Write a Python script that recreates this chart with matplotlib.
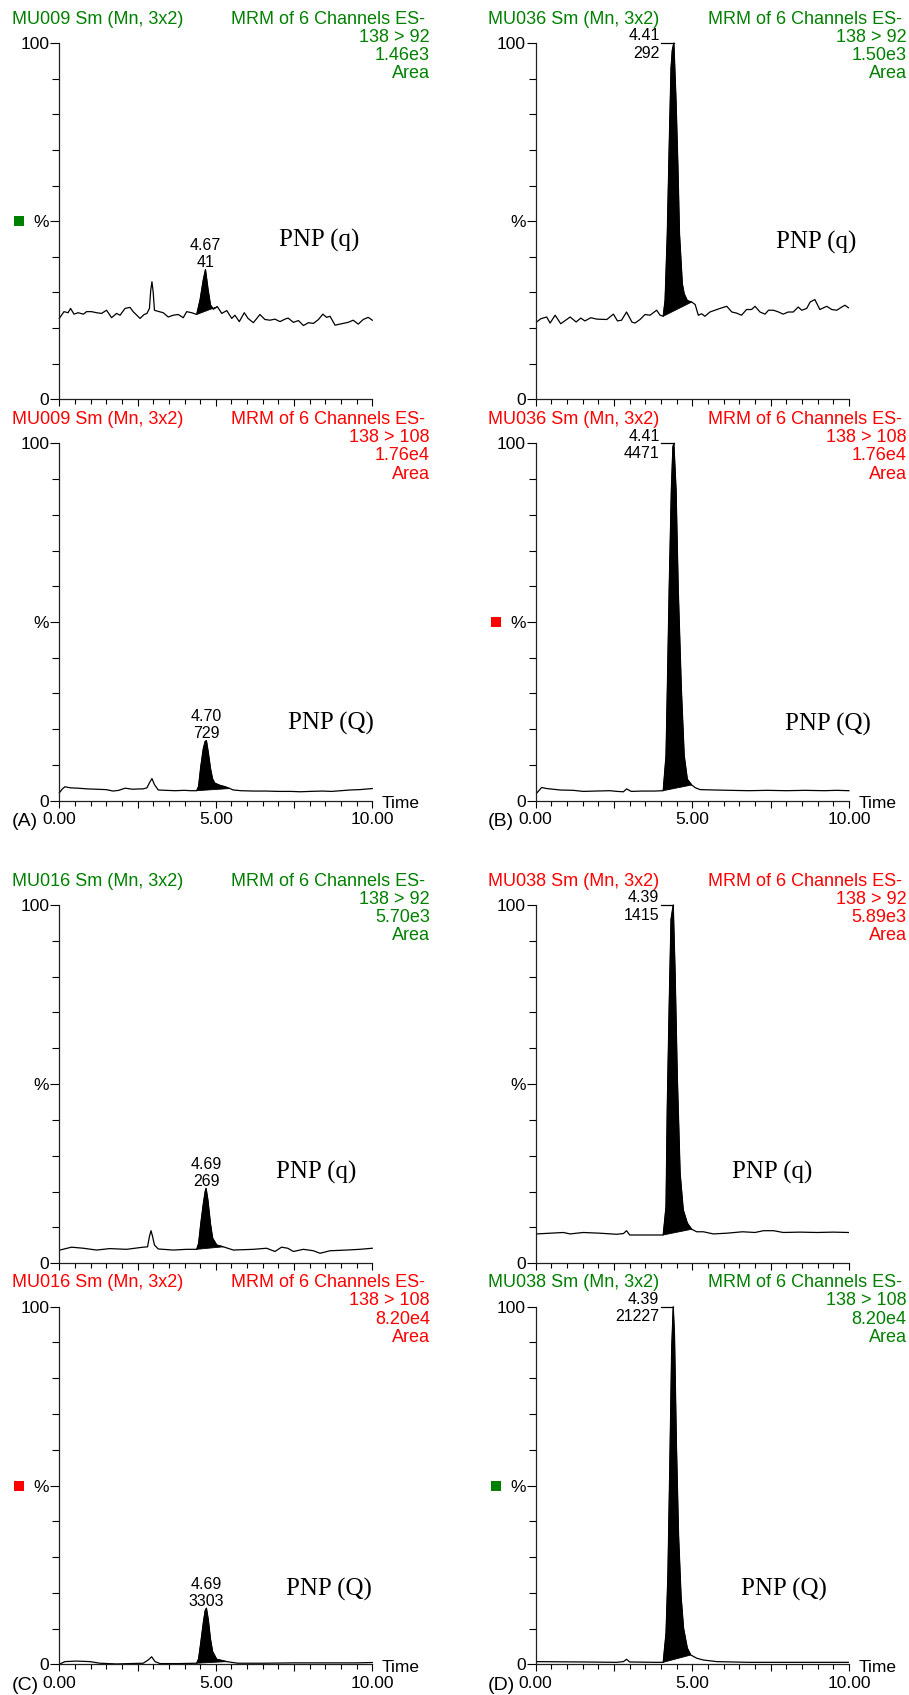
import matplotlib
matplotlib.use('agg')
import matplotlib.pyplot as plt
from matplotlib.transforms import offset_copy
import numpy as np

plt.rcParams['font.family'] = ['Liberation Sans', 'DejaVu Sans']

GREEN = '#008000'
RED = '#ff0000'

### chromatogram traces (time in min, relative intensity in %)
a_q_time = [0.00, 0.15, 0.28, 0.36, 0.47, 0.60, 0.77, 0.87, 1.03, 1.19, 1.35, 1.51, 1.67, 1.83, 1.94,
            2.10, 2.26, 2.36, 2.58, 2.71, 2.80, 2.88, 2.92, 2.96, 3.00, 3.04, 3.11, 3.32, 3.48, 3.64,
            3.80, 3.96, 4.07, 4.23, 4.39, 4.50, 4.60, 4.67, 4.75, 4.83, 4.92, 5.05, 5.19, 5.35, 5.51,
            5.61, 5.75, 5.91, 6.03, 6.20, 6.41, 6.57, 6.73, 6.89, 7.05, 7.21, 7.31, 7.48, 7.64, 7.80,
            7.96, 8.12, 8.28, 8.42, 8.54, 8.65, 8.81, 8.91, 9.07, 9.23, 9.39, 9.55, 9.71, 9.87, 10.00]
a_q_pct = [22.7, 24.6, 24.3, 25.5, 23.9, 24.3, 23.9, 24.6, 24.6, 24.3, 24.1, 25.0, 22.9, 24.1, 23.6,
           25.5, 25.8, 24.6, 22.7, 23.8, 24.1, 25.5, 30.5, 33.0, 30.0, 25.0, 24.8, 24.3, 23.1, 23.6,
           23.8, 22.9, 24.6, 24.3, 23.8, 28.0, 33.5, 36.4, 31.0, 26.5, 25.3, 26.0, 24.1, 24.9, 22.7,
           23.6, 21.8, 24.3, 22.7, 21.5, 23.8, 22.4, 22.2, 22.5, 21.8, 22.5, 22.8, 21.6, 22.1, 20.7,
           21.5, 21.3, 22.4, 23.9, 23.0, 23.3, 20.8, 21.0, 21.3, 21.6, 22.2, 21.1, 22.4, 23.0, 22.2]

a_Q_time = [0.00, 0.10, 0.18, 0.35, 0.60, 0.90, 1.20, 1.50, 1.72, 1.90, 2.10, 2.35, 2.55, 2.68, 2.80,
            2.88, 2.96, 3.04, 3.16, 3.40, 3.70, 4.00, 4.20, 4.39, 4.45, 4.52, 4.60, 4.66, 4.70, 4.76,
            4.83, 4.90, 4.97, 5.13, 5.30, 5.45, 5.56, 5.80, 6.20, 6.60, 7.00, 7.40, 7.70, 8.00, 8.40,
            8.70, 9.00, 9.30, 9.60, 10.00]
a_Q_pct = [2.2, 3.3, 3.9, 3.6, 3.5, 3.3, 3.2, 3.1, 2.7, 2.9, 3.5, 3.2, 3.3, 3.3, 3.6,
           5.0, 6.2, 4.5, 3.0, 2.9, 2.8, 2.9, 2.8, 2.8, 4.0, 9.5, 14.5, 16.6, 16.8, 13.5,
           9.0, 6.0, 4.9, 4.3, 3.9, 3.4, 3.0, 2.8, 2.7, 2.7, 2.6, 2.6, 2.5, 2.6, 2.7,
           2.6, 2.8, 3.0, 3.1, 3.4]

b_q_time = [0.03, 0.16, 0.35, 0.46, 0.62, 0.80, 0.94, 1.10, 1.29, 1.44, 1.57, 1.76, 1.95, 2.27, 2.48,
            2.61, 2.74, 2.90, 3.07, 3.17, 3.33, 3.49, 3.65, 3.86, 3.97, 4.07, 4.13, 4.20, 4.27, 4.32,
            4.36, 4.41, 4.48, 4.54, 4.59, 4.68, 4.74, 4.84, 4.98, 5.09, 5.19, 5.30, 5.40, 5.56, 5.72,
            5.88, 6.10, 6.26, 6.41, 6.57, 6.73, 6.89, 7.00, 7.16, 7.32, 7.43, 7.59, 7.75, 7.90, 8.06,
            8.22, 8.38, 8.49, 8.65, 8.76, 8.91, 9.07, 9.29, 9.45, 9.61, 9.77, 9.87, 9.98]
b_q_pct = [21.7, 22.6, 23.1, 21.4, 23.6, 21.2, 22.1, 23.1, 21.7, 22.8, 22.0, 22.9, 22.5, 22.4, 23.9,
           22.0, 22.2, 24.5, 21.7, 21.4, 22.4, 23.8, 23.6, 25.0, 23.6, 23.3, 27.8, 46.4, 74.4, 93.0,
           98.0, 100.0, 83.6, 65.0, 46.4, 32.4, 29.6, 27.7, 27.3, 26.6, 23.6, 24.0, 23.3, 24.5, 25.0,
           25.5, 26.1, 24.5, 24.2, 23.6, 25.2, 25.2, 26.1, 24.5, 23.9, 25.0, 25.0, 24.5, 23.9, 24.5,
           24.5, 25.9, 25.0, 25.5, 27.3, 28.0, 25.2, 26.1, 25.2, 25.0, 25.9, 26.4, 25.7]

b_Q_time = [0.03, 0.19, 0.35, 0.78, 1.20, 1.52, 1.90, 2.37, 2.60, 2.80, 2.90, 3.05, 3.40, 3.80, 4.07,
            4.16, 4.21, 4.26, 4.33, 4.38, 4.41, 4.48, 4.55, 4.65, 4.74, 4.84, 4.98, 5.10, 5.25,
            5.70, 6.20, 6.80, 7.40, 8.00, 8.60, 9.20, 9.60, 10.00]
b_Q_pct = [2.1, 3.7, 3.4, 3.0, 2.9, 2.6, 2.7, 2.8, 2.6, 2.5, 3.3, 2.6, 2.7, 2.7, 2.8,
           12.6, 35.0, 59.0, 87.0, 99.0, 100.0, 87.0, 59.0, 31.0, 12.6, 6.0, 4.4, 3.6, 3.1,
           3.0, 2.9, 2.8, 2.9, 2.8, 2.9, 2.8, 2.9, 2.8]

c_q_time = [0.02, 0.39, 0.77, 1.19, 1.61, 2.15, 2.68, 2.82, 2.88, 2.93, 2.98, 3.04, 3.16, 3.64, 4.07,
            4.39, 4.45, 4.52, 4.60, 4.66, 4.69, 4.75, 4.83, 4.90, 5.03, 5.24, 5.56, 6.20, 6.62, 6.89,
            7.10, 7.30, 7.48, 7.80, 8.12, 8.33, 8.65, 9.18, 9.60, 10.00]
c_q_pct = [3.7, 4.5, 4.2, 3.7, 4.1, 3.9, 4.5, 4.6, 7.5, 9.1, 7.5, 5.1, 4.0, 3.7, 3.9,
           3.9, 5.5, 11.0, 16.5, 20.0, 20.9, 17.5, 11.0, 7.0, 5.1, 4.6, 3.7, 3.9, 4.2, 3.3,
           4.5, 4.2, 3.3, 3.9, 3.5, 2.8, 3.5, 3.7, 3.9, 4.2]

c_Q_time = [0.02, 0.18, 0.55, 0.98, 1.30, 1.83, 2.68, 2.84, 2.95, 3.06, 3.22, 3.80, 4.39, 4.45, 4.52,
            4.60, 4.66, 4.70, 4.76, 4.83, 4.90, 5.03, 5.35, 5.70, 6.50, 7.50, 8.50, 9.50, 10.00]
c_Q_pct = [0.1, 0.75, 0.9, 0.75, 0.3, 0.1, 0.3, 1.2, 2.1, 0.75, 0.2, 0.2, 0.3, 1.5, 6.0,
           11.5, 15.0, 15.7, 12.5, 7.0, 3.5, 1.4, 0.75, 0.3, 0.3, 0.4, 0.4, 0.4, 0.5]

d_q_time = [0.03, 0.46, 0.88, 1.10, 1.52, 2.05, 2.58, 2.80, 2.90, 3.00, 3.64, 4.07, 4.16, 4.20, 4.26,
            4.32, 4.39, 4.45, 4.52, 4.61, 4.71, 4.84, 4.98, 5.14, 5.35, 5.67, 6.10, 6.60, 7.00, 7.27,
            7.59, 7.90, 8.44, 8.97, 9.50, 9.98]
d_q_pct = [8.2, 8.4, 8.6, 8.2, 8.6, 8.4, 8.1, 8.3, 9.1, 7.9, 7.9, 7.9, 15.8, 43.7, 71.6,
           96.0, 100.0, 81.0, 52.0, 25.1, 14.9, 11.2, 9.5, 8.8, 8.8, 8.2, 8.4, 8.8, 8.6, 9.1,
           9.1, 8.6, 8.7, 8.6, 8.7, 8.6]

d_Q_time = [0.03, 1.52, 2.58, 2.80, 2.90, 3.00, 3.80, 4.07, 4.16, 4.22, 4.28, 4.34, 4.39, 4.43, 4.49,
            4.56, 4.64, 4.72, 4.84, 4.95, 5.14, 5.35, 5.78, 6.80, 8.00, 9.00, 9.98]
d_Q_pct = [0.75, 0.65, 0.55, 0.75, 1.4, 0.65, 0.55, 0.55, 8.7, 25.0, 55.0, 88.0, 100.0, 92.0, 62.0,
           36.0, 19.0, 10.0, 4.5, 2.6, 1.7, 1.2, 0.75, 0.55, 0.55, 0.55, 0.55]

### header / peak annotations
samples = ['MU009', 'MU036', 'MU016', 'MU038']
panel_letters = ['(A)', '(B)', '(C)', '(D)']
transitions = ['138 > 92', '138 > 108']
ion_labels = ['PNP (q)', 'PNP (Q)']
tic_values = [['1.46e3', '1.76e4'], ['1.50e3', '1.76e4'], ['5.70e3', '8.20e4'], ['5.89e3', '8.20e4']]
peak_rt = [['4.67', '4.70'], ['4.41', '4.41'], ['4.69', '4.69'], ['4.39', '4.39']]
peak_height = [['41', '729'], ['292', '4471'], ['269', '3303'], ['1415', '21227']]
integration = [[(4.39, 5.05), (4.39, 5.45)], [(4.07, 4.98), (4.07, 4.98)],
               [(4.39, 5.24), (4.39, 5.35)], [(4.07, 4.98), (4.07, 4.95)]]
channel_colors = [[GREEN, RED], [GREEN, RED], [GREEN, RED], [RED, GREEN]]
marker_on = [[True, False], [False, True], [False, True], [False, True]]

traces = [[(a_q_time, a_q_pct), (a_Q_time, a_Q_pct)],
          [(b_q_time, b_q_pct), (b_Q_time, b_Q_pct)],
          [(c_q_time, c_q_pct), (c_Q_time, c_Q_pct)],
          [(d_q_time, d_q_pct), (d_Q_time, d_Q_pct)]]

### layout (pixels of the 909x1695 figure)
W, H = 909, 1695
col_px = [(59.3, 372.3), (535.7, 849.0)]
row_px = [(43.0, 399.3), (443.3, 800.7), (905.0, 1263.3), (1306.7, 1664.3)]
panel_cell = [(0, 0), (1, 0), (0, 2), (1, 2)]
ion_label_pos = [[(8.30, 44.7), (8.68, 21.7)], [(8.94, 44.0), (9.34, 21.2)],
                 [(8.22, 25.3), (8.62, 20.8)], [(7.55, 25.3), (7.93, 20.8)]]

fig = plt.figure(figsize=(W / 100, H / 100), dpi=100)


def px(ax, trans, dx, dy):
    return offset_copy(trans, fig=fig, x=dx, y=dy, units='dots')


def draw_channel(ax, p, k, bottom):
    color = channel_colors[p][k]
    t = np.array(traces[p][k][0])
    y = np.array(traces[p][k][1])

    ax.set_xlim(0, 10)
    ax.set_ylim(0, 100)
    for side in ['top', 'right']:
        ax.spines[side].set_visible(False)
    for side in ['left', 'bottom']:
        ax.spines[side].set_linewidth(0.9)
        ax.spines[side].set_color('#202020')

    ax.set_yticks([0, 50, 100])
    ax.set_yticklabels(['0', '%', '100'])
    ax.set_yticks(np.arange(10, 100, 10), minor=True)
    ax.set_xticks([0, 2.5, 5, 7.5, 10])
    if bottom:
        ax.set_xticklabels(['0.00', '', '5.00', '', '10.00'])
    else:
        ax.set_xticklabels([])
    ax.set_xticks(np.arange(0, 10.01, 0.5), minor=True)
    ax.tick_params(axis='y', which='major', length=6.5, width=0.8, pad=0.8, labelsize=12.5)
    ax.tick_params(axis='y', which='minor', length=5, width=0.8)
    ax.tick_params(axis='x', which='major', length=5, width=0.8, pad=3.2, labelsize=12.5)
    ax.tick_params(axis='x', which='minor', length=3.3, width=0.8)

    # trace and integrated peak
    ax.plot(t, y, color='black', lw=0.9, clip_on=False)
    start, end = integration[p][k]
    sel = (t >= start - 1e-6) & (t <= end + 1e-6)
    ax.fill(t[sel], y[sel], color='black', lw=0.6)

    # peak label
    rt = float(peak_rt[p][k])
    apex = y[sel].max()
    if apex >= 90:
        ax.plot([rt - 0.40, rt], [100, 100], color='black', lw=0.9, clip_on=False)
        ax.text(rt - 0.45, 100, peak_rt[p][k], transform=px(ax, ax.transData, 0, 2.5),
                ha='right', va='baseline', fontsize=11.5)
        ax.text(rt - 0.45, 100, peak_height[p][k], transform=px(ax, ax.transData, 0, -14.5),
                ha='right', va='baseline', fontsize=11.5)
    else:
        ax.text(rt, apex, peak_height[p][k], transform=px(ax, ax.transData, 0, 2.5),
                ha='center', va='baseline', fontsize=11.5)
        ax.text(rt, apex, peak_rt[p][k], transform=px(ax, ax.transData, 0, 19.5),
                ha='center', va='baseline', fontsize=11.5)

    lx, ly = ion_label_pos[p][k]
    ax.text(lx, ly, ion_labels[k], ha='center', va='center', fontsize=18,
            family=['Liberation Serif', 'DejaVu Serif'])

    # header block
    ax.text(0, 1, samples[p] + ' Sm (Mn, 3x2)', transform=px(ax, ax.transAxes, -47.6, 19.5),
            ha='left', va='baseline', color=color, fontsize=13)
    ax.text(1, 1, 'MRM of 6 Channels ES-', transform=px(ax, ax.transAxes, 52.7, 19.5),
            ha='right', va='baseline', color=color, fontsize=13)
    for txt, dy in [(transitions[k], 1.5), (tic_values[p][k], -17), ('Area', -35.5)]:
        ax.text(1, 1, txt, transform=px(ax, ax.transAxes, 57.7, dy),
                ha='right', va='baseline', color=color, fontsize=13)

    if marker_on[p][k]:
        ax.plot([0], [0.5], marker='s', ms=7.6, mew=0, color=color, clip_on=False,
                transform=px(ax, ax.transAxes, -40, 0))

    if bottom:
        ax.text(1, 0, 'Time', transform=px(ax, ax.transAxes, 9.4, -7.6),
                ha='left', va='baseline', fontsize=12.5)
        ax.text(0, 0, panel_letters[p], transform=px(ax, ax.transAxes, -47.6, -25.5),
                ha='left', va='baseline', fontsize=14)


for p in range(4):
    col, row0 = panel_cell[p]
    x0, x1 = col_px[col]
    for k in range(2):
        top, bot = row_px[row0 + k]
        ax = fig.add_axes([x0 / W, 1 - bot / H, (x1 - x0) / W, (bot - top) / H])
        ax.patch.set_alpha(0)
        draw_channel(ax, p, k, bottom=(k == 1))

fig.savefig('out.png', dpi=100)
